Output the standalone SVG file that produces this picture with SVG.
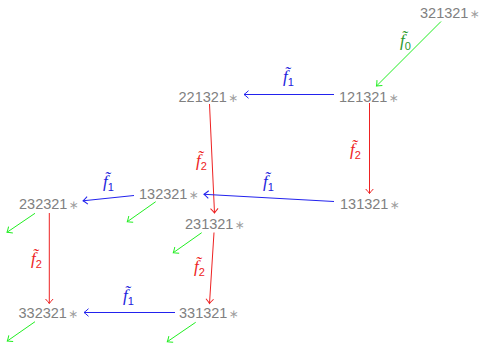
<svg xmlns="http://www.w3.org/2000/svg" width="480" height="344" viewBox="0 0 480 344">
  <style>
    .node text { font-family: "Liberation Sans", "DejaVu Sans", sans-serif; font-size: 14.5px; fill: #808080; }
    .node .star { font-family: "DejaVu Sans", sans-serif; font-size: 12px; fill: #a0a0a0; }
    .edges line { stroke-width: 1; fill: none; }
    .g { stroke: #22ee22; }
    .b { stroke: #2222ee; }
    .r { stroke: #ee2222; }
    .lab { font-family: "Liberation Serif", "DejaVu Serif", serif; font-size: 17px; font-style: italic; }
    .lab .sub { font-family: "Liberation Sans", "DejaVu Sans", sans-serif; font-style: normal; font-size: 11px; }
    .lg { fill: #2a9a2a; }
    .lb { fill: #2222dd; }
    .lr { fill: #ee2222; }
  </style>
  <defs>
    <marker id="ag" markerUnits="userSpaceOnUse" markerWidth="10" markerHeight="10" viewBox="-6 -5 8 10" refX="0" refY="0" orient="auto">
      <path d="M-4.5,-3.8 Q-1.5,-1 0,0 Q-1.5,1 -4.5,3.8" fill="none" stroke="#22ee22" stroke-width="1"/>
    </marker>
    <marker id="ab" markerUnits="userSpaceOnUse" markerWidth="10" markerHeight="10" viewBox="-6 -5 8 10" refX="0" refY="0" orient="auto">
      <path d="M-4.5,-3.8 Q-1.5,-1 0,0 Q-1.5,1 -4.5,3.8" fill="none" stroke="#2222ee" stroke-width="1"/>
    </marker>
    <marker id="ar" markerUnits="userSpaceOnUse" markerWidth="10" markerHeight="10" viewBox="-6 -5 8 10" refX="0" refY="0" orient="auto">
      <path d="M-4.5,-3.8 Q-1.5,-1 0,0 Q-1.5,1 -4.5,3.8" fill="none" stroke="#ee2222" stroke-width="1"/>
    </marker>
  </defs>

  <!-- connectors -->
  <g id="edges" class="edges">
    <line class="g" x1="441" y1="21.5" x2="376.5" y2="86" marker-end="url(#ag)"/>
    <line class="b" x1="334" y1="94.5" x2="244" y2="94.5" marker-end="url(#ab)"/>
    <line class="r" x1="369.5" y1="103" x2="369.5" y2="193.5" marker-end="url(#ar)"/>
    <line class="r" x1="209.5" y1="104" x2="214.5" y2="213" marker-end="url(#ar)"/>
    <line class="b" x1="334" y1="201.5" x2="204" y2="194.3" marker-end="url(#ab)"/>
    <line class="b" x1="134" y1="195.5" x2="83" y2="200.8" marker-end="url(#ab)"/>
    <line class="r" x1="49.3" y1="213" x2="49.3" y2="303.5" marker-end="url(#ar)"/>
    <line class="r" x1="214" y1="232.5" x2="209.5" y2="303.5" marker-end="url(#ar)"/>
    <line class="b" x1="175" y1="312.5" x2="84" y2="312.5" marker-end="url(#ab)"/>
    <line class="g" x1="35" y1="213.3" x2="7" y2="232.3" marker-end="url(#ag)"/>
    <line class="g" x1="155.7" y1="201.7" x2="127.3" y2="221.7" marker-end="url(#ag)"/>
    <line class="g" x1="201.7" y1="232.7" x2="173.3" y2="252.7" marker-end="url(#ag)"/>
    <line class="g" x1="35" y1="321.7" x2="7.3" y2="341" marker-end="url(#ag)"/>
    <line class="g" x1="195.7" y1="322.3" x2="167.3" y2="341.7" marker-end="url(#ag)"/>
  </g>

  <!-- connector labels -->
  <g id="labels">
    <text class="lab lg" x="400" y="46">f̃<tspan class="sub" dy="4">0</tspan></text>
    <text class="lab lb" x="283" y="82">f̃<tspan class="sub" dy="4">1</tspan></text>
    <text class="lab lr" x="350" y="155">f̃<tspan class="sub" dy="4">2</tspan></text>
    <text class="lab lr" x="196" y="166">f̃<tspan class="sub" dy="4">2</tspan></text>
    <text class="lab lb" x="263" y="187">f̃<tspan class="sub" dy="4">1</tspan></text>
    <text class="lab lb" x="103" y="187">f̃<tspan class="sub" dy="4">1</tspan></text>
    <text class="lab lr" x="31" y="264">f̃<tspan class="sub" dy="4">2</tspan></text>
    <text class="lab lr" x="194" y="272">f̃<tspan class="sub" dy="4">2</tspan></text>
    <text class="lab lb" x="123" y="301">f̃<tspan class="sub" dy="4">1</tspan></text>
  </g>

  <!-- nodes -->
  <g id="n321321" class="node"><text x="420" y="17.5">321321<tspan class="star" dx="1">∗</tspan></text></g>
  <g id="n121321" class="node"><text x="339" y="101.5">121321<tspan class="star" dx="1">∗</tspan></text></g>
  <g id="n221321" class="node"><text x="178.5" y="101.5">221321<tspan class="star" dx="1">∗</tspan></text></g>
  <g id="n131321" class="node"><text x="340" y="209">131321<tspan class="star" dx="1">∗</tspan></text></g>
  <g id="n132321" class="node"><text x="139" y="198.5">132321<tspan class="star" dx="1">∗</tspan></text></g>
  <g id="n232321" class="node"><text x="19" y="208.5">232321<tspan class="star" dx="1">∗</tspan></text></g>
  <g id="n231321" class="node"><text x="185" y="228.5">231321<tspan class="star" dx="1">∗</tspan></text></g>
  <g id="n332321" class="node"><text x="18.5" y="318">332321<tspan class="star" dx="1">∗</tspan></text></g>
  <g id="n331321" class="node"><text x="179" y="317.5">331321<tspan class="star" dx="1">∗</tspan></text></g>
</svg>
